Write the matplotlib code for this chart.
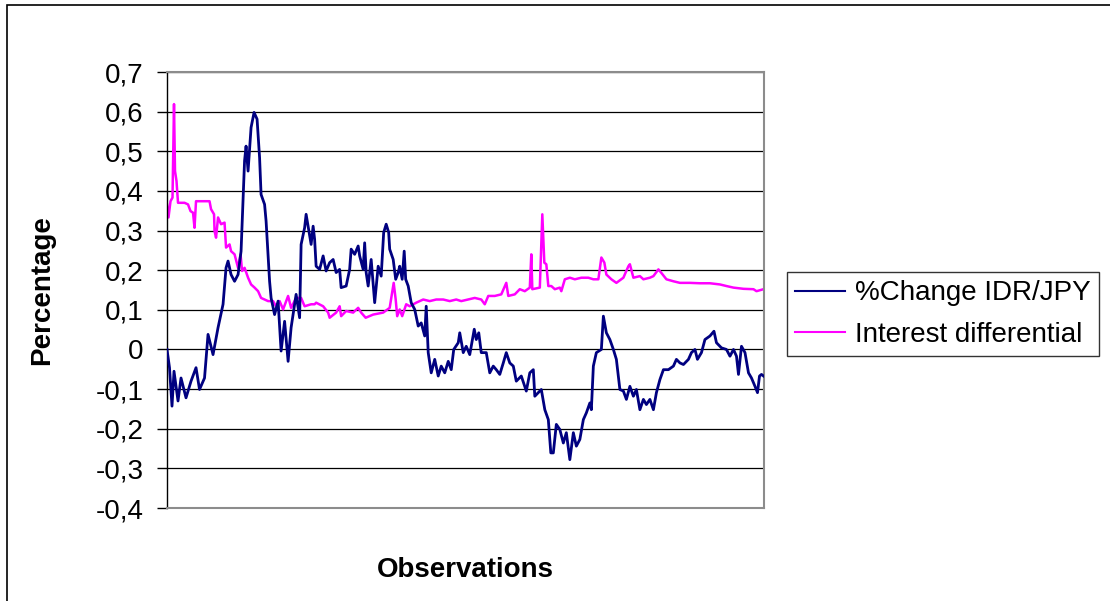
import numpy as np
import matplotlib
matplotlib.use('Agg')
import matplotlib.pyplot as plt
from matplotlib.patches import Rectangle
from matplotlib.ticker import FuncFormatter

plt.rcParams['font.family'] = ['Liberation Sans', 'DejaVu Sans']

chg_obs = [0, 5, 10, 14, 22, 28, 38, 48, 58, 65, 75, 82, 92, 102, 112, 118, 122, 128, 135, 142,
           148, 155, 158, 162, 168, 174, 180, 185, 188, 195, 198, 205, 208, 215, 222, 228, 235, 242, 248, 258,
           265, 268, 275, 278, 288, 292, 295, 298, 305, 312, 318, 325, 332, 338, 345, 348, 358, 365, 368, 375,
           382, 385, 392, 395, 398, 402, 408, 415, 422, 428, 433, 438, 443, 445, 452, 457, 462, 465, 470, 474,
           477, 482, 488, 495, 502, 508, 515, 518, 522, 528, 535, 542, 548, 555, 562, 568, 573, 582, 585, 592,
           598, 605, 614, 618, 623, 628, 638, 645, 652, 658, 665, 672, 678, 685, 692, 698, 708, 718, 725, 732,
           735, 742, 748, 755, 762, 767, 772, 778, 785, 792, 798, 805, 812, 818, 825, 832, 838, 845, 848, 852,
           858, 868, 872, 878, 885, 892, 898, 905, 912, 918, 925, 932, 938, 945, 952, 958, 965, 972, 978, 985,
           992, 1002, 1012, 1018, 1025, 1032, 1042, 1048, 1055, 1060, 1068, 1075, 1085, 1093, 1098, 1108, 1118, 1125, 1132, 1138,
           1142, 1148, 1155, 1162, 1168, 1175, 1180, 1184, 1188, 1192]
chg_val = [0.000, -0.046, -0.143, -0.055, -0.130, -0.072, -0.122, -0.080, -0.046, -0.101, -0.072, 0.038, -0.013, 0.055, 0.114, 0.206, 0.223, 0.189, 0.172, 0.189,
           0.248, 0.476, 0.513, 0.450, 0.560, 0.598, 0.581, 0.484, 0.391, 0.366, 0.324, 0.172, 0.130, 0.088, 0.122, -0.004, 0.071, -0.030, 0.055, 0.139,
           0.080, 0.265, 0.307, 0.341, 0.265, 0.311, 0.278, 0.210, 0.202, 0.236, 0.198, 0.219, 0.227, 0.194, 0.202, 0.156, 0.160, 0.202, 0.253, 0.240,
           0.261, 0.236, 0.202, 0.269, 0.194, 0.160, 0.227, 0.118, 0.210, 0.185, 0.295, 0.316, 0.295, 0.253, 0.227, 0.177, 0.194, 0.210, 0.177, 0.248,
           0.177, 0.160, 0.118, 0.101, 0.059, 0.067, 0.034, 0.109, -0.008, -0.059, -0.025, -0.067, -0.042, -0.059, -0.030, -0.051, 0.000, 0.017, 0.042, -0.008,
           0.008, -0.013, 0.051, 0.025, 0.042, -0.008, -0.008, -0.059, -0.042, -0.051, -0.063, -0.034, -0.008, -0.034, -0.042, -0.080, -0.067, -0.105, -0.059, -0.051,
           -0.118, -0.109, -0.101, -0.152, -0.177, -0.261, -0.261, -0.189, -0.202, -0.236, -0.210, -0.278, -0.210, -0.244, -0.227, -0.177, -0.160, -0.135, -0.152, -0.042,
           -0.008, 0.000, 0.084, 0.042, 0.025, 0.000, -0.025, -0.101, -0.105, -0.126, -0.093, -0.118, -0.101, -0.152, -0.126, -0.139, -0.126, -0.152, -0.109, -0.076,
           -0.051, -0.051, -0.042, -0.025, -0.034, -0.038, -0.025, -0.008, 0.000, -0.025, -0.008, 0.025, 0.034, 0.046, 0.017, 0.004, 0.000, -0.017, 0.000, -0.017,
           -0.063, 0.008, -0.008, -0.059, -0.072, -0.093, -0.109, -0.067, -0.063, -0.067]

# Interest differential
int_obs = [0, 3, 7, 11, 14, 16, 19, 22, 35, 42, 47, 52, 55, 58, 85, 88, 94, 95, 98, 102,
           108, 115, 118, 125, 128, 135, 142, 147, 150, 155, 162, 168, 175, 182, 188, 195, 202, 212, 218, 225,
           232, 242, 248, 258, 268, 275, 288, 295, 298, 312, 322, 325, 338, 345, 348, 358, 372, 382, 388, 397,
           412, 432, 445, 453, 457, 460, 465, 470, 478, 485, 498, 512, 525, 538, 552, 565, 578, 588, 602, 615,
           628, 635, 642, 655, 668, 678, 682, 695, 705, 715, 725, 728, 730, 745, 750, 754, 758, 762, 768, 775,
           785, 788, 795, 805, 815, 828, 842, 852, 862, 868, 874, 878, 888, 898, 912, 922, 925, 932, 945, 952,
           965, 972, 982, 988, 998, 1012, 1025, 1045, 1065, 1085, 1105, 1118, 1132, 1152, 1172, 1178, 1192]
int_val = [0.366, 0.333, 0.374, 0.383, 0.619, 0.450, 0.425, 0.370, 0.370, 0.366, 0.349, 0.345, 0.307, 0.374, 0.374, 0.354, 0.341, 0.299, 0.282, 0.333,
           0.316, 0.320, 0.257, 0.265, 0.248, 0.240, 0.206, 0.240, 0.198, 0.206, 0.181, 0.164, 0.156, 0.147, 0.130, 0.126, 0.122, 0.122, 0.109, 0.122,
           0.101, 0.135, 0.105, 0.130, 0.130, 0.109, 0.114, 0.114, 0.118, 0.109, 0.093, 0.080, 0.093, 0.109, 0.084, 0.097, 0.093, 0.105, 0.093, 0.080,
           0.088, 0.093, 0.105, 0.168, 0.126, 0.084, 0.101, 0.084, 0.114, 0.109, 0.118, 0.126, 0.122, 0.126, 0.126, 0.122, 0.126, 0.122, 0.126, 0.130,
           0.126, 0.114, 0.135, 0.135, 0.139, 0.168, 0.135, 0.139, 0.152, 0.147, 0.156, 0.240, 0.152, 0.156, 0.341, 0.219, 0.215, 0.160, 0.160, 0.152,
           0.156, 0.147, 0.177, 0.181, 0.177, 0.181, 0.181, 0.177, 0.177, 0.232, 0.219, 0.189, 0.177, 0.168, 0.181, 0.210, 0.215, 0.181, 0.185, 0.177,
           0.181, 0.185, 0.202, 0.193, 0.177, 0.172, 0.168, 0.168, 0.167, 0.167, 0.164, 0.160, 0.156, 0.153, 0.152, 0.147, 0.152]

yticks = [0.7, 0.6, 0.5, 0.4, 0.3, 0.2, 0.1, 0, -0.1, -0.2, -0.3, -0.4]

fig = plt.figure(figsize=(11.1, 6.01), dpi=100)
ax = fig.add_axes([167 / 1110, 1 - 508 / 601, 597 / 1110, 436 / 601])

# outer chart border
fig.patches.append(Rectangle((7 / 1110, -0.05), 1.1, 0.05 + (1 - 5 / 601), transform=fig.transFigure,
                             fill=False, edgecolor='black', linewidth=1.2))

for y in yticks:
    ax.axhline(y, color='black', linewidth=0.9, zorder=1)

ax.plot(chg_obs, chg_val, color='#000080', linewidth=2.0, label='%Change IDR/JPY', zorder=3)
ax.plot(int_obs, int_val, color='#ff00ff', linewidth=1.8, label='Interest differential', zorder=2)

ax.set_xlim(0, 1193)
ax.set_ylim(-0.4, 0.7)
ax.set_xticks([])
ax.set_yticks(yticks)
ax.yaxis.set_major_formatter(FuncFormatter(lambda v, p: '0' if abs(v) < 1e-9 else ('%.1f' % v).replace('.', ',')))
ax.tick_params(axis='y', direction='out', length=7, width=1, pad=10, labelsize=20, colors='black')

for s in ['top', 'right', 'bottom']:
    ax.spines[s].set_color('#8c8c8c')
    ax.spines[s].set_linewidth(1.5)
ax.spines['left'].set_color('black')
ax.spines['left'].set_linewidth(1)

ax.set_ylabel('Percentage', fontsize=20, fontweight='bold')
ax.yaxis.set_label_coords(-112 / 597, 0.5)
ax.set_xlabel('Observations', fontsize=20, fontweight='bold')
ax.xaxis.set_label_coords(0.5, -49 / 436)

leg = ax.legend(loc='upper left', bbox_to_anchor=(787 / 1110, 1 - 272 / 601), bbox_transform=fig.transFigure,
                fontsize=20, frameon=True, fancybox=False, borderpad=0.3, handlelength=1.8,
                handletextpad=0.35, labelspacing=0.55, borderaxespad=0)
leg.get_frame().set_edgecolor('black')
leg.get_frame().set_linewidth(1)
for line in leg.get_lines():
    line.set_linewidth(1.5)

fig.savefig('out.png', dpi=100)
